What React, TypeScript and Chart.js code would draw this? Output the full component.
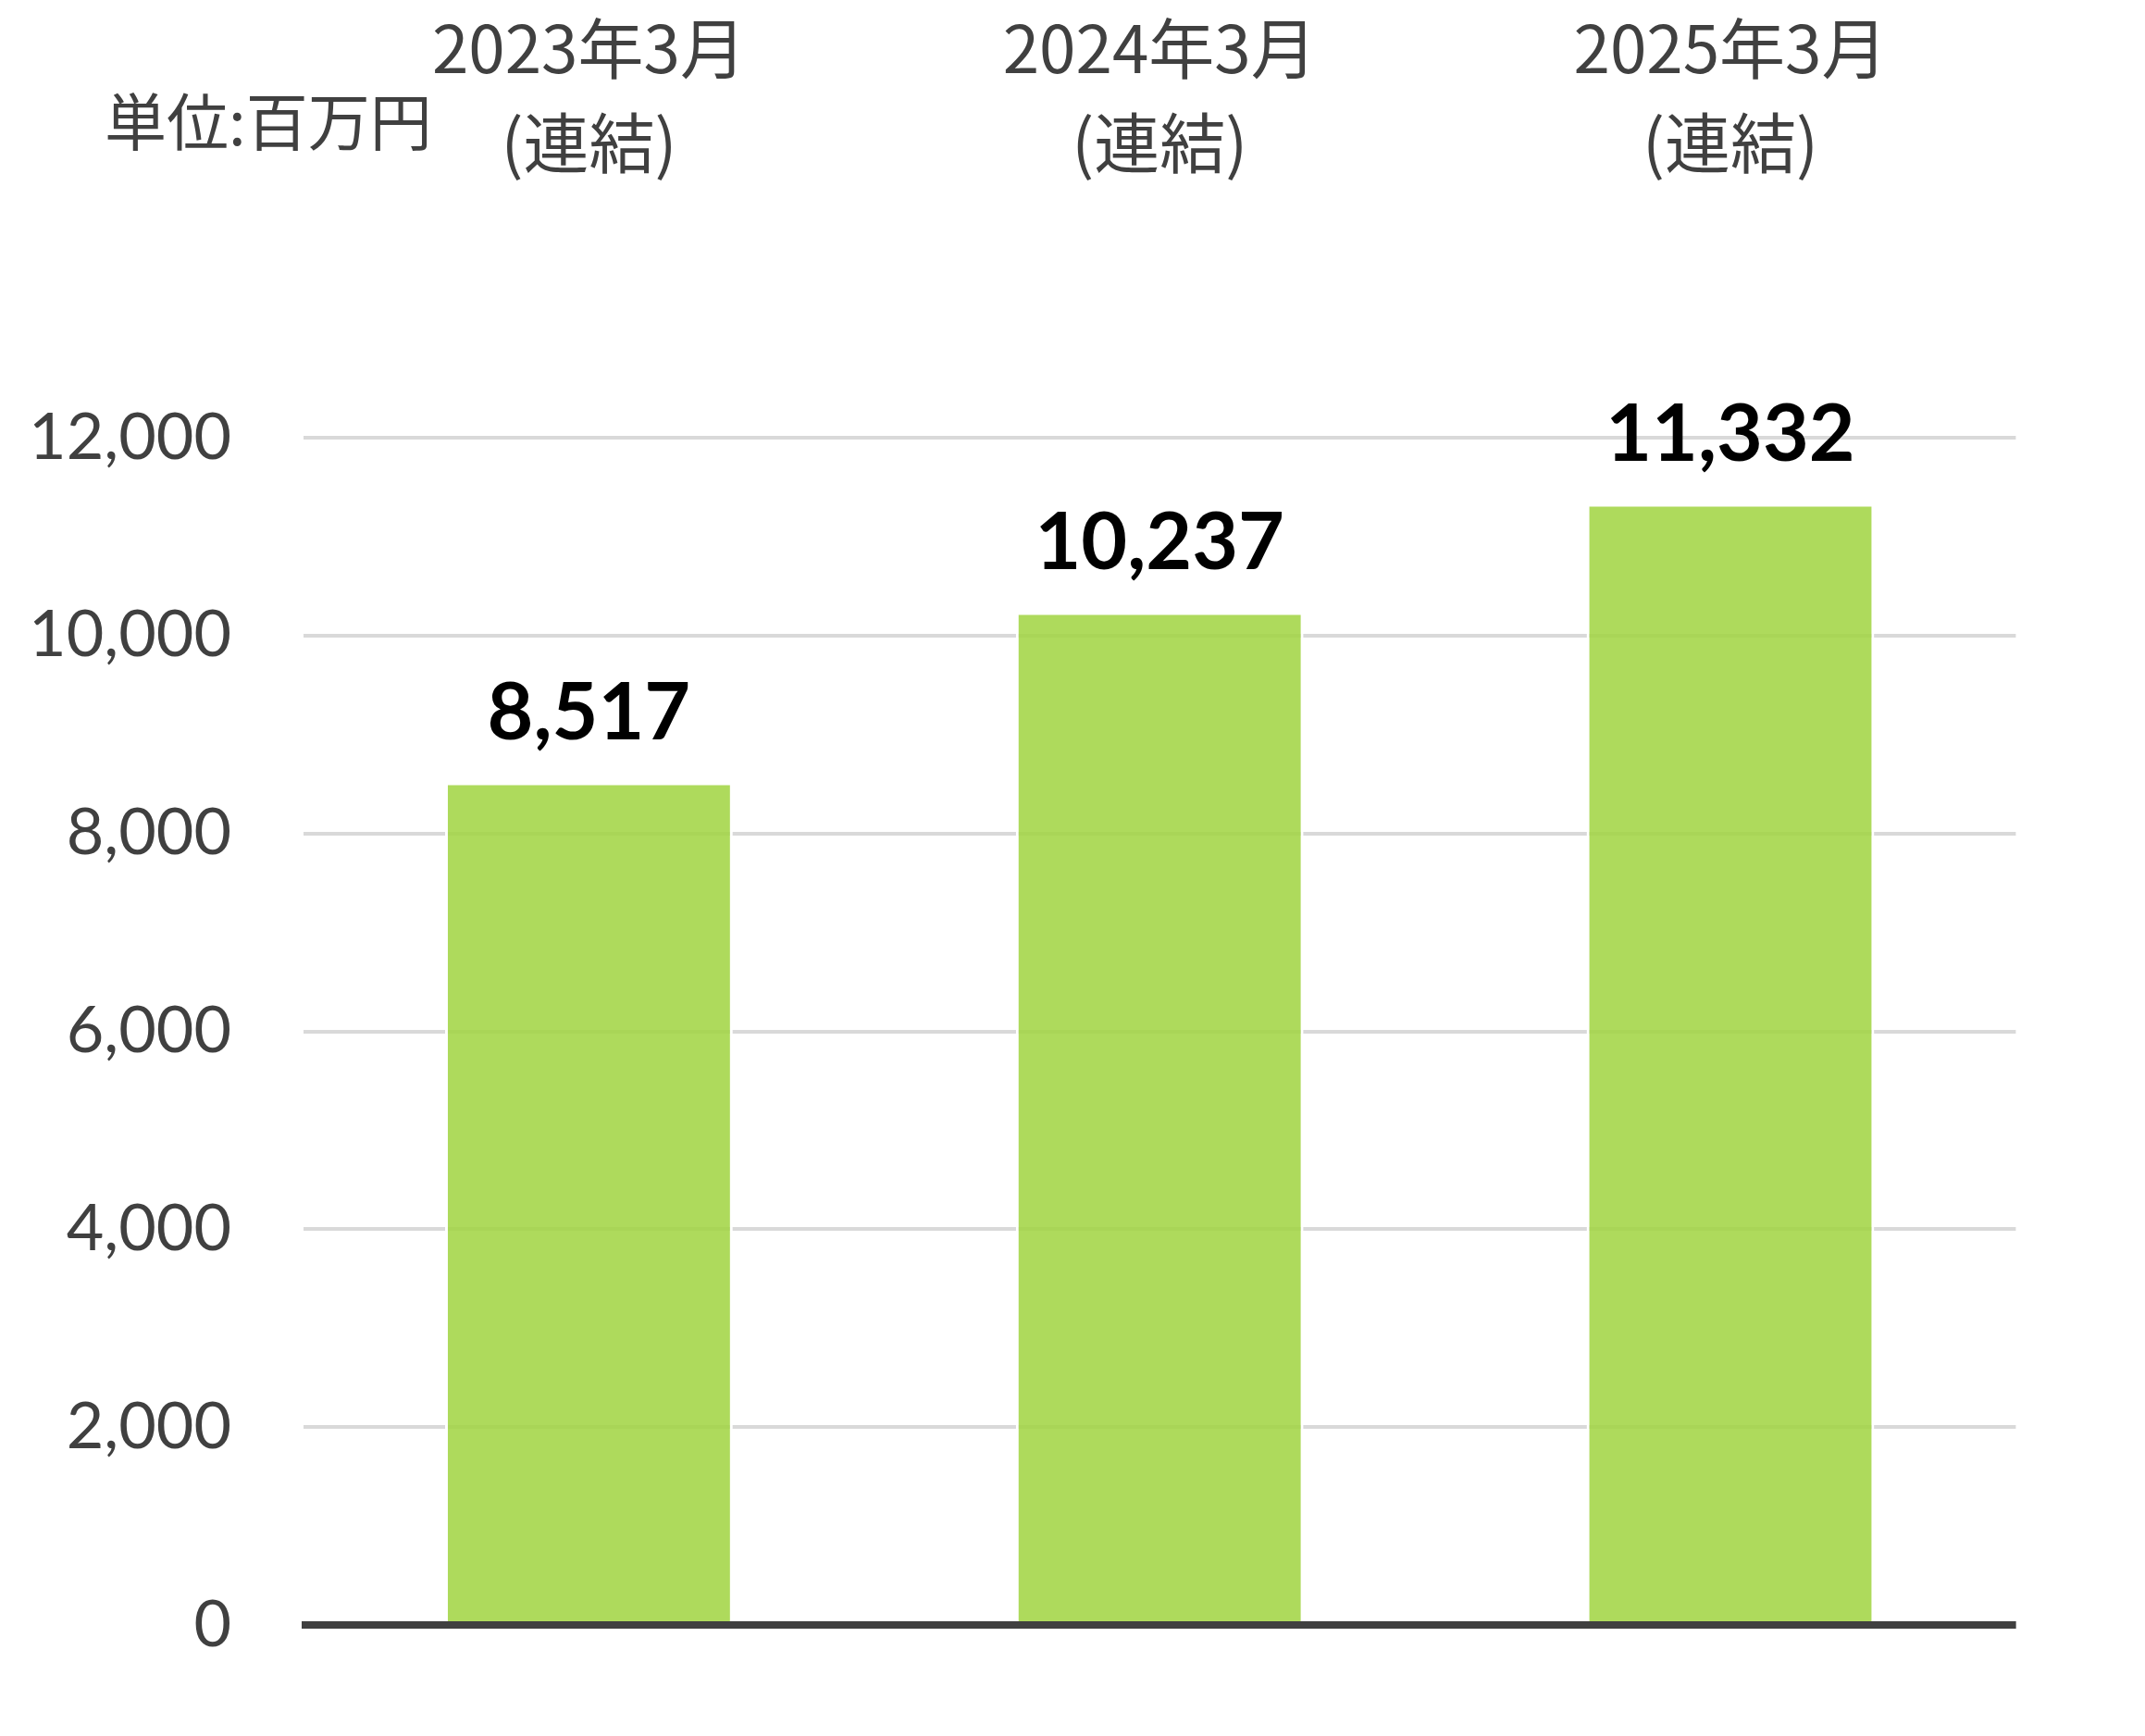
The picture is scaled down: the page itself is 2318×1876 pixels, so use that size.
import { useEffect, useRef } from 'react';
import { Chart, registerables } from 'chart.js';

Chart.register(...registerables);

// fiscal periods (two-line labels shown above the plot)
const periods = ['2023年3月', '2024年3月', '2025年3月'];
const periodNotes = ['(連結)', '(連結)', '(連結)'];
// net sales, million yen
const sales = [8517, 10237, 11332];
const yTickStep = 2000;
const yMax = 12000;
const unitLabel = '単位:百万円';

const W = 2318;
const H = 1876;
const TEXT = '#404040';
const NUM_FONT = "Lato, 'Noto Sans', sans-serif";
const JP_FONT = "'Noto Sans CJK JP', 'Noto Sans', sans-serif";

export default function App() {
  const chartRef = useRef<HTMLCanvasElement>(null);
  const chartInstance = useRef<Chart | null>(null);

  useEffect(() => {
    if (!chartRef.current) return;
    if (chartInstance.current) chartInstance.current.destroy();

    // value labels above bars, baseline redrawn over bars, unit caption
    const overlay = {
      id: 'overlay',
      afterDatasetsDraw(chart: Chart) {
        const { ctx, chartArea } = chart;
        const zeroY = chart.scales.y.getPixelForValue(0);

        ctx.save();
        ctx.strokeStyle = TEXT;
        ctx.lineWidth = 8;
        ctx.beginPath();
        ctx.moveTo(chartArea.left - 2, zeroY);
        ctx.lineTo(chartArea.right, zeroY);
        ctx.stroke();

        const meta = chart.getDatasetMeta(0);
        ctx.fillStyle = '#000000';
        ctx.font = `bold 86px ${NUM_FONT}`;
        ctx.textAlign = 'center';
        ctx.textBaseline = 'alphabetic';
        meta.data.forEach((bar: any, i: number) => {
          ctx.fillText(sales[i].toLocaleString('en-US'), bar.x, bar.y - 46);
        });

        ctx.fillStyle = TEXT;
        ctx.font = `67px ${JP_FONT}`;
        ctx.textAlign = 'left';
        ctx.textBaseline = 'middle';
        ctx.fillText(unitLabel, 113, 132);
        ctx.restore();
      },
    };

    const canvas = chartRef.current;
    canvas.width = W;
    canvas.height = H;
    const ctx = canvas.getContext('2d');
    if (ctx) {
      chartInstance.current = new Chart(ctx, {
        type: 'bar',
        data: {
          labels: periods.map((p, i) => [p, periodNotes[i]]),
          datasets: [{
            label: '売上高',
            data: sales,
            backgroundColor: 'rgba(160, 212, 64, 0.85)',
            borderColor: '#ffffff',
            borderWidth: 3,
            barPercentage: 0.504,
            categoryPercentage: 1,
          }],
        },
        options: {
          responsive: false,
          animation: false,
          layout: { padding: { top: 10, left: 0, right: 63, bottom: 49 } },
          plugins: {
            legend: { display: false },
            tooltip: { enabled: false },
          },
          scales: {
            x: {
              position: 'top',
              grid: { display: false, drawTicks: false },
              border: { display: false },
              ticks: {
                color: TEXT,
                font: { family: JP_FONT, size: 71, lineHeight: 1.44 },
                padding: 268,
              },
              afterFit(scale: any) { scale.height = 463; },
            },
            y: {
              min: 0,
              max: yMax,
              grid: {
                color: (c: any) => (c.tick && c.tick.value === 0 ? TEXT : '#d9d9d9'),
                lineWidth: (c: any) => (c.tick && c.tick.value === 0 ? 8 : 4),
                drawTicks: false,
              },
              border: { display: false },
              ticks: {
                stepSize: yTickStep,
                color: TEXT,
                font: { family: NUM_FONT, size: 70 },
                padding: 78,
                callback: (v: any) => Number(v).toLocaleString('en-US'),
              },
              afterFit(scale: any) { scale.width = 328; },
            },
          },
        },
        plugins: [overlay],
      });
    }

    return () => {
      if (chartInstance.current) {
        chartInstance.current.destroy();
        chartInstance.current = null;
      }
    };
  }, []);

  return (
    <div style={{ position: 'fixed', left: 0, top: 0, width: W, height: H, background: '#ffffff' }}>
      <canvas ref={chartRef} width={W} height={H} style={{ width: W, height: H, display: 'block' }} />
    </div>
  );
}
